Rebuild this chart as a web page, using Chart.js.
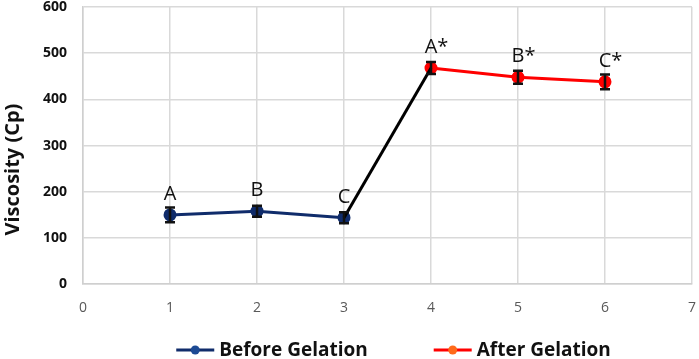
<!DOCTYPE html>
<html>
<head>
<meta charset="utf-8">
<script src="https://cdn.jsdelivr.net/npm/chart.js@4"></script>
<style>
  html, body { margin: 0; padding: 0; background: #fff; }
  #wrap { width: 699px; height: 359px; }
</style>
</head>
<body>
<div id="wrap"><canvas id="my_chart" width="699" height="359"></canvas></div>
<script>
// data
const before_x = [1, 2, 3];
const before_y = [150, 158, 144];
const before_err = [16, 12, 12];
const before_labels = ['A', 'B', 'C'];

const after_x = [4, 5, 6];
const after_y = [468, 448, 438];
const after_err = [13, 14, 16];
const after_labels = ['A*', 'B*', 'C*'];

const x_ticks = [0, 1, 2, 3, 4, 5, 6, 7];
const y_ticks = [0, 100, 200, 300, 400, 500, 600];
const y_title = 'Viscosity (Cp)';

const navy = '#102c6b';
const red = '#ff0000';
const font_family = '"Open Sans", sans-serif';

function to_points(xs, ys) {
    return xs.map((x, i) => ({ x: x, y: ys[i] }));
}

// error bars + point letters
const extras_plugin = {
    id: 'extras',
    afterDatasetsDraw(chart) {
        const ctx = chart.ctx;
        const xs = chart.scales.x, ys = chart.scales.y;
        const groups = [
            [before_x, before_y, before_err, before_labels],
            [after_x, after_y, after_err, after_labels]
        ];
        ctx.save();
        groups.forEach(([gx, gy, ge, gl]) => {
            gx.forEach((xv, i) => {
                const px = xs.getPixelForValue(xv);
                const top = ys.getPixelForValue(gy[i] + ge[i]);
                const bot = ys.getPixelForValue(gy[i] - ge[i]);
                ctx.strokeStyle = '#111';
                ctx.lineWidth = 2.5;
                ctx.beginPath();
                ctx.moveTo(px, top); ctx.lineTo(px, bot);
                ctx.moveTo(px - 5, top); ctx.lineTo(px + 5, top);
                ctx.moveTo(px - 5, bot); ctx.lineTo(px + 5, bot);
                ctx.stroke();
                ctx.fillStyle = '#111';
                ctx.font = '20px ' + font_family;
                ctx.textAlign = 'left';
                ctx.textBaseline = 'alphabetic';
                const tw = ctx.measureText(gl[i].charAt(0)).width;
                ctx.fillText(gl[i], px - tw / 2, ys.getPixelForValue(gy[i]) - 15);
            });
        });
        ctx.restore();
    }
};

// y title sits a bit below the middle of the plot in the original
const y_title_plugin = {
    id: 'y_title',
    afterDraw(chart) {
        const ctx = chart.ctx;
        const area = chart.chartArea;
        ctx.save();
        ctx.translate(13, (area.top + area.bottom) / 2 + 24);
        ctx.rotate(-Math.PI / 2);
        ctx.font = 'bold 20px ' + font_family;
        ctx.fillStyle = '#111';
        ctx.textAlign = 'center';
        ctx.textBaseline = 'middle';
        ctx.fillText(y_title, 0, 0);
        ctx.restore();
    }
};

// legend under the plot: line with a dot, then bold text
const legend_plugin = {
    id: 'line_legend',
    afterDraw(chart) {
        const ctx = chart.ctx;
        const area = chart.chartArea;
        const items = chart.data.datasets.filter(d => d.in_legend);
        const mark_w = 38, text_gap = 5, item_gap = 66;
        ctx.save();
        ctx.font = 'bold 19px ' + font_family;
        const widths = items.map(d => mark_w + text_gap + ctx.measureText(d.label).width);
        const total = widths.reduce((a, b) => a + b, 0) + item_gap * (items.length - 1);
        let x = (area.left + area.right) / 2 - total / 2 + 6;
        const y = chart.height - 9;
        items.forEach((d, i) => {
            ctx.strokeStyle = d.borderColor;
            ctx.lineWidth = 3;
            ctx.beginPath(); ctx.moveTo(x, y); ctx.lineTo(x + mark_w, y); ctx.stroke();
            ctx.fillStyle = d.legend_dot;
            ctx.beginPath(); ctx.arc(x + mark_w / 2, y, 4.5, 0, Math.PI * 2); ctx.fill();
            ctx.fillStyle = '#111';
            ctx.textBaseline = 'middle';
            ctx.fillText(d.label, x + mark_w + text_gap, y + 1);
            x += widths[i] + item_gap;
        });
        ctx.restore();
    }
};

new Chart(document.getElementById('my_chart').getContext('2d'), {
    type: 'line',
    data: {
        datasets: [
            {
                label: 'link',
                data: [{ x: before_x[2], y: before_y[2] }, { x: after_x[0], y: after_y[0] }],
                borderColor: '#000',
                borderWidth: 3,
                pointRadius: 0
            },
            {
                label: 'Before Gelation',
                data: to_points(before_x, before_y),
                borderColor: navy,
                backgroundColor: navy,
                borderWidth: 3,
                pointRadius: 5,
                in_legend: true,
                legend_dot: '#1d4a94'
            },
            {
                label: 'After Gelation',
                data: to_points(after_x, after_y),
                borderColor: red,
                backgroundColor: red,
                borderWidth: 3,
                pointRadius: 5,
                in_legend: true,
                legend_dot: '#ff6a1a'
            }
        ]
    },
    options: {
        responsive: false,
        animation: false,
        // left padding leaves room for the hand-drawn y title
        layout: { autoPadding: false, padding: { left: 43, right: 7, top: 0, bottom: 43 } },
        plugins: {
            tooltip: { enabled: false },
            legend: { display: false }
        },
        scales: {
            x: {
                type: 'linear',
                min: 0, max: 7,
                afterBuildTicks: axis => { axis.ticks = x_ticks.map(v => ({ value: v })); },
                // invisible tick marks give the label gap without padding the plot edges
                grid: { color: '#d9d9d9', lineWidth: 1.5, drawTicks: true, tickLength: 15, tickColor: 'rgba(0,0,0,0)' },
                border: { color: '#cfcfcf', width: 1.5 },
                ticks: { color: '#595959', padding: 0, font: { family: font_family, size: 14 } }
            },
            y: {
                min: 0, max: 600,
                afterBuildTicks: axis => { axis.ticks = y_ticks.map(v => ({ value: v })); },
                grid: { color: '#d9d9d9', lineWidth: 1.5, drawTicks: true, tickLength: 16, tickColor: 'rgba(0,0,0,0)' },
                border: { color: '#cfcfcf', width: 1.5 },
                ticks: { color: '#111', padding: 0, font: { family: font_family, size: 14, weight: 'bold', lineHeight: 1 } }
            }
        }
    },
    plugins: [extras_plugin, y_title_plugin, legend_plugin]
});
</script>
</body>
</html>
